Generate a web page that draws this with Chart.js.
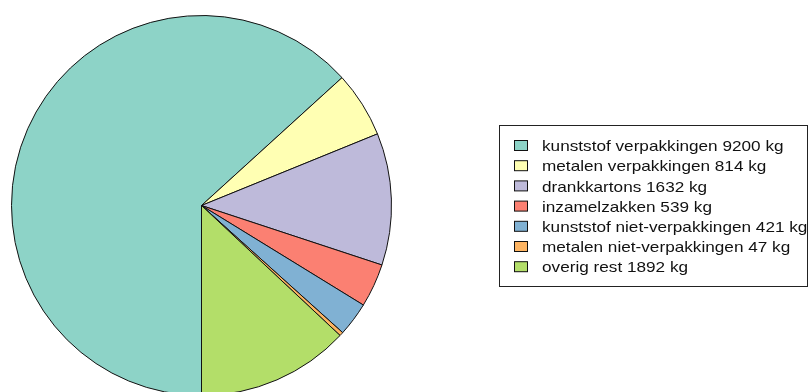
<!DOCTYPE html>
<html>
<head>
<meta charset="utf-8">
<script src="https://cdn.jsdelivr.net/npm/chart.js@4/dist/chart.umd.min.js"></script>
<style>
  html, body { margin: 0; padding: 0; background: #fff; }
  #wrap { width: 809px; height: 392px; overflow: hidden; position: relative; }
  canvas { display: block; }
</style>
</head>
<body>
<div id="wrap"><canvas id="pie" width="809" height="420"></canvas></div>
<script>
var categories = [
    'kunststof verpakkingen',
    'metalen verpakkingen',
    'drankkartons',
    'inzamelzakken',
    'kunststof niet-verpakkingen',
    'metalen niet-verpakkingen',
    'overig rest'
];
var weights = [9200, 814, 1632, 539, 421, 47, 1892];
var unit = 'kg';
var colors = ['#8DD3C7', '#FFFFB3', '#BEBADA', '#FB8072', '#80B1D3', '#FDB462', '#B3DE69'];

// legend in a framed box to the right of the pie
var boxLegend = {
    id: 'boxLegend',
    afterDraw: function (chart) {
        var ctx = chart.ctx;
        var labels = chart.data.labels;
        var ds = chart.data.datasets[0];
        ctx.save();
        ctx.strokeStyle = '#222';
        ctx.lineWidth = 1;
        ctx.strokeRect(499.5, 125.5, 308, 161);

        for (var i = 0; i < labels.length; i++) {
            var y = 147 + i * 20.2;
            ctx.fillStyle = ds.backgroundColor[i];
            ctx.fillRect(514.5, y - 6.5, 13, 10);
            ctx.strokeStyle = '#111';
            ctx.strokeRect(514.5, y - 6.5, 13, 10);

            // text is a bit wider than plain Liberation Sans
            ctx.save();
            ctx.translate(542, y);
            ctx.scale(1.145, 1);
            ctx.font = '15px "Liberation Sans", Arial, sans-serif';
            ctx.textBaseline = 'middle';
            ctx.textAlign = 'left';
            ctx.fillStyle = '#111';
            ctx.fillText(labels[i] + ' ' + ds.data[i] + ' ' + unit, 0, 0);
            ctx.restore();
        }
        ctx.restore();
    }
};

new Chart(document.getElementById('pie'), {
    type: 'pie',
    data: {
        labels: categories,
        datasets: [{
            data: weights,
            backgroundColor: colors,
            borderColor: '#111',
            borderWidth: 1
        }]
    },
    options: {
        responsive: false,
        animation: false,
        rotation: 180,
        layout: { padding: { left: 11, top: 15, right: 417, bottom: 24 } },
        plugins: {
            legend: { display: false },
            tooltip: { enabled: false }
        }
    },
    plugins: [boxLegend]
});
</script>
</body>
</html>
